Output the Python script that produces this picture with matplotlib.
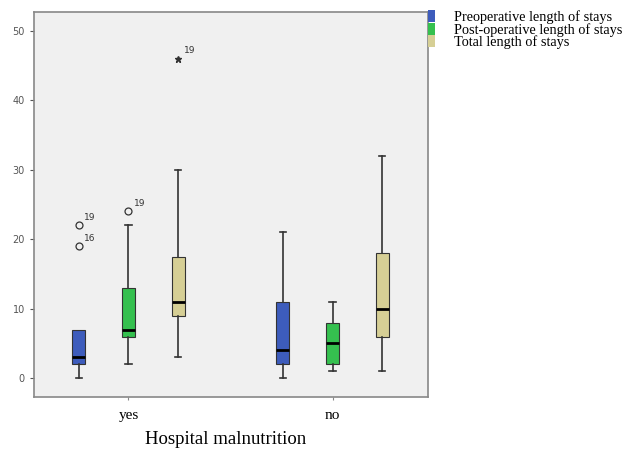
import matplotlib.pyplot as plt
from matplotlib.patches import Patch

groups = ['yes', 'no']
series = ['Preoperative length of stays', 'Post-operative length of stays', 'Total length of stays']
colors = ['#3d5cbc', '#35c04f', '#d6cf95']

# box stats per group, per series (whislo, q1, med, q3, whishi)
whislo = [[0, 2, 3], [0, 1, 1]]
q1 = [[2, 6, 9], [2, 2, 6]]
med = [[3, 7, 11], [4, 5, 10]]
q3 = [[7, 13, 17.5], [11, 8, 18]]
whishi = [[7, 22, 30], [21, 11, 32]]

# outliers (value, case label) and extremes
outliers = [[[(19, '16'), (22, '19')], [(24, '19')], []], [[], [], []]]
extremes = [[[], [], [(46, '19')]], [[], [], []]]

fig = plt.figure(figsize=(6.44, 4.54), dpi=100)
ax = fig.add_axes([0.0528, 0.1256, 0.6118, 0.848])
ax.set_facecolor('#f0f0f0')

offsets = [-0.244, 0, 0.244]
for gi, g in enumerate(groups):
    for si in range(3):
        pos = gi + 1 + offsets[si]
        st = dict(whislo=whislo[gi][si], q1=q1[gi][si], med=med[gi][si],
                  q3=q3[gi][si], whishi=whishi[gi][si], fliers=[])
        b = ax.bxp([st], positions=[pos], widths=0.065, patch_artist=True,
                   showfliers=False,
                   boxprops=dict(facecolor=colors[si], edgecolor='#333333', linewidth=0.8),
                   medianprops=dict(color='black', linewidth=2),
                   whiskerprops=dict(color='#333333', linewidth=1.2),
                   capprops=dict(color='#333333', linewidth=1.2),
                   capwidths=0.03)
        # hide upper cap when the whisker has zero length
        if whishi[gi][si] == q3[gi][si]:
            b['caps'][1].set_visible(False)
        for v, lab in outliers[gi][si]:
            ax.plot(pos, v, 'o', mfc='none', mec='#333333', ms=5, mew=0.9)
            ax.annotate(lab, (pos, v), xytext=(4, 4), textcoords='offset points',
                        fontsize=6.5, color='#333333')
        for v, lab in extremes[gi][si]:
            ax.plot(pos, v, '*', color='#333333', ms=5)
            ax.annotate(lab, (pos, v), xytext=(4, 4), textcoords='offset points',
                        fontsize=6.5, color='#333333')

ax.set_xlim(0.537, 2.468)
ax.set_ylim(-2.7, 52.7)
ax.set_yticks([0, 10, 20, 30, 40, 50])
ax.tick_params(axis='y', labelsize=7, labelcolor='#555555', color='#555555', length=3)
ax.set_xticks([1, 2])
ax.set_xticklabels(groups, family='Liberation Serif', fontsize=11)
ax.tick_params(axis='x', length=2, pad=7, color='#888888')
for s in ax.spines.values():
    s.set_color('#888888')
    s.set_linewidth(1.2)

fig.text(0.35, 0.031, 'Hospital malnutrition', family='Liberation Serif', fontsize=13.5,
         ha='center', va='center')

handles = [Patch(facecolor=c, edgecolor='none') for c in colors]
fig.legend(handles, series, loc='upper left', bbox_to_anchor=(0.664, 0.978),
           frameon=False, prop=dict(family='Liberation Serif', size=10.3),
           handlelength=0.55, handleheight=0.9, handletextpad=1.3, labelspacing=-0.08,
           borderaxespad=0, borderpad=0)

fig.savefig('out.png', dpi=100)
